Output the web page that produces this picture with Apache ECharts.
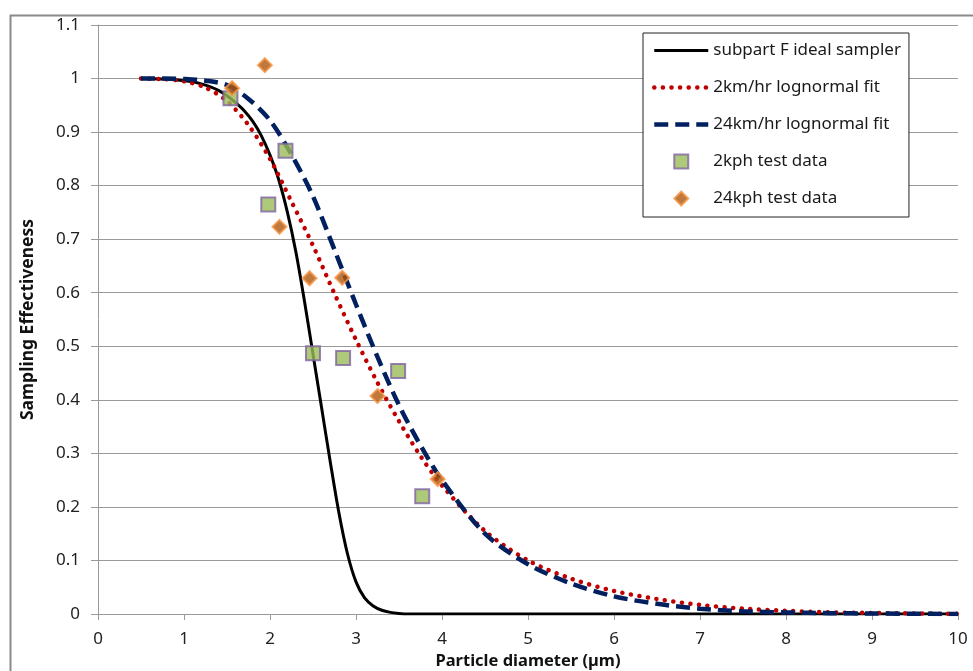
<!DOCTYPE html>
<html>
<head>
<meta charset="utf-8">
<script src="https://cdn.jsdelivr.net/npm/echarts@6/dist/echarts.min.js"></script>
<style>
  html, body { margin: 0; padding: 0; background: #fff; }
  #chart { width: 973px; height: 671px; }
</style>
</head>
<body>
<div id="chart"></div>
<script>
// Sampling effectiveness vs particle diameter – curves, points as [µm, effectiveness]
const IDEAL = [[0.5, 1.0], [0.75, 0.999], [1.0, 0.996], [1.1, 0.994], [1.2, 0.99], [1.3, 0.985], [1.4, 0.978],
  [1.5, 0.968], [1.6, 0.955], [1.7, 0.94], [1.8, 0.92], [1.9, 0.893], [2.0, 0.857], [2.1, 0.812], [2.2, 0.752],
  [2.3, 0.677], [2.4, 0.585], [2.5, 0.485], [2.6, 0.385], [2.7, 0.285], [2.8, 0.19], [2.9, 0.113], [3.0, 0.06],
  [3.1, 0.03], [3.2, 0.015], [3.3, 0.007], [3.4, 0.003], [3.5, 0.001], [3.6, 0], [4, 0], [5, 0], [6, 0],
  [7, 0], [8, 0], [9, 0], [10, 0]]
const FIT2 = [[0.5, 1.0], [0.75, 0.999], [1.0, 0.995], [1.25, 0.983], [1.5, 0.958], [1.75, 0.913], [2.0, 0.85],
  [2.25, 0.77], [2.5, 0.688], [2.75, 0.598], [3.0, 0.512], [3.25, 0.432], [3.5, 0.36], [3.75, 0.295],
  [4.0, 0.24], [4.5, 0.155], [5.0, 0.1], [5.5, 0.066], [6.0, 0.043], [6.5, 0.028], [7.0, 0.017],
  [7.5, 0.01], [8.0, 0.006], [8.5, 0.003], [9.0, 0.002], [9.5, 0.001], [10, 0.0005]]
const FIT24 = [[0.5, 1.0], [0.75, 1.0], [1.0, 0.999], [1.25, 0.996], [1.5, 0.988], [1.75, 0.962], [2.0, 0.922],
  [2.25, 0.858], [2.5, 0.78], [2.75, 0.68], [3.0, 0.578], [3.25, 0.48], [3.5, 0.39], [3.75, 0.315],
  [4.0, 0.25], [4.5, 0.15], [5.0, 0.093], [5.5, 0.057], [6.0, 0.033], [6.5, 0.019], [7.0, 0.01],
  [7.5, 0.005], [8.0, 0.003], [8.5, 0.0015], [9.0, 0.001], [10, 0]]
const TEST2 = [[1.54, 0.963], [1.98, 0.765], [2.18, 0.865], [2.5, 0.487], [2.85, 0.478], [3.49, 0.454], [3.77, 0.22]]
const TEST24 = [[1.56, 0.982], [1.94, 1.025], [2.11, 0.723], [2.46, 0.627], [2.84, 0.628], [3.25, 0.407], [3.95, 0.252]]
const NAMES = ['subpart F ideal sampler', '2km/hr lognormal fit', '24km/hr lognormal fit', '2kph test data', '24kph test data']

const FONT = '"Noto Sans", "Open Sans", sans-serif'
const SQUARE = 'path://M0,0L10,0L10,10L0,10Z'
const DIAMOND = 'path://M5,0L10,5L5,10L0,5Z'
const STYLES = [
  { color: '#000', width: 3 },
  { color: '#c00000', width: 4.5, type: [0.1, 8.5], cap: 'round' },
  { color: '#002060', width: 4.5, type: [14, 7] }
]
const chart = echarts.init(document.getElementById('chart'))

const line = (i, data) => ({
  name: NAMES[i], type: 'line', data, smooth: 0.3, symbol: 'none', lineStyle: STYLES[i], z: 3
})

chart.setOption({
  animation: false,
  textStyle: { fontFamily: FONT },
  graphic: [{
    type: 'rect', left: 8, top: 13, silent: true, z: -10,
    shape: { width: 1000, height: 700 },
    style: { fill: 'none', stroke: '#8a8a8a', lineWidth: 2 }
  }],
  grid: { left: 98, right: 15, top: 25, bottom: 57, outerBoundsMode: 'none', containLabel: false },
  legend: {
    orient: 'vertical', left: 643, top: 33,
    padding: [9, 8, 10, 9], itemGap: 20, itemWidth: 54, itemHeight: 14,
    backgroundColor: '#fff', borderColor: '#222', borderWidth: 1,
    textStyle: { fontSize: 17, color: '#1a1a1a', fontFamily: FONT },
    data: NAMES.map((n, i) => i < 3
      ? { name: n, itemStyle: { opacity: 0 }, lineStyle: STYLES[i] }
      : { name: n, icon: i === 3 ? SQUARE : DIAMOND })
  },
  xAxis: {
    type: 'value', min: 0, max: 10, interval: 1,
    name: 'Particle diameter (µm)', nameLocation: 'middle', nameGap: 38,
    nameTextStyle: { fontSize: 16.5, fontWeight: 'bold', color: '#111' },
    axisLine: { lineStyle: { color: '#9a9a9a', width: 1 } },
    axisTick: { length: 6, lineStyle: { color: '#9a9a9a' } },
    axisLabel: { fontSize: 17, color: '#222', margin: 17 },
    splitLine: { show: false }
  },
  yAxis: {
    type: 'value', min: 0, max: 1.1, interval: 0.1,
    name: 'Sampling Effectiveness', nameLocation: 'middle', nameGap: 61, nameRotate: 90,
    nameTextStyle: { fontSize: 17.5, fontWeight: 'bold', color: '#111' },
    axisLine: { show: true, lineStyle: { color: '#9a9a9a', width: 1 } },
    axisTick: { show: true, length: 7, lineStyle: { color: '#9a9a9a' } },
    axisLabel: { fontSize: 17, color: '#222', margin: 18, formatter: v => String(+v.toFixed(1)) },
    splitLine: { lineStyle: { color: '#9a9a9a', width: 1 } }
  },
  series: [
    line(0, IDEAL),
    line(1, FIT2),
    line(2, FIT24),
    { name: NAMES[3], type: 'scatter', data: TEST2, symbol: SQUARE, symbolSize: 14, symbolKeepAspect: true, z: 5,
      itemStyle: { color: '#9bbb59', borderColor: '#8064a2', borderWidth: 2 } },
    { name: NAMES[4], type: 'scatter', data: TEST24, symbol: DIAMOND, symbolSize: 14, symbolKeepAspect: true, z: 6,
      itemStyle: { color: '#b0580c', borderColor: '#f79646', borderWidth: 2 } }
  ]
})
</script>
</body>
</html>
